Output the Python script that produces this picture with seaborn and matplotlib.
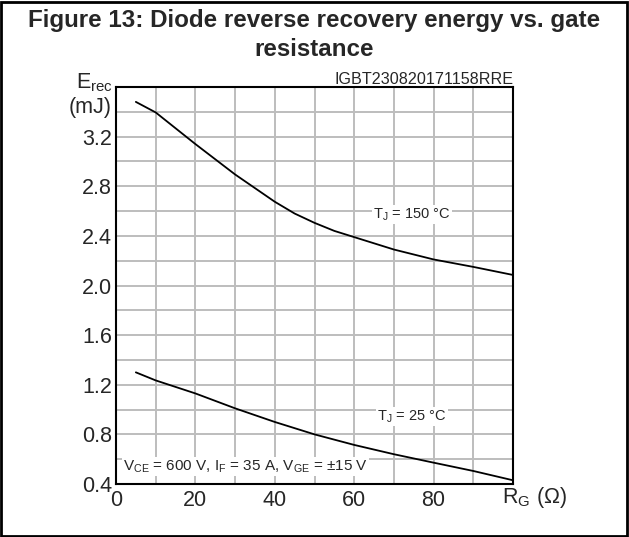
import numpy as np
import pandas as pd
import seaborn as sns
import matplotlib
import matplotlib.pyplot as plt
from matplotlib.patches import Rectangle

matplotlib.use('Agg')

# Curve data
rg_150 = [5, 10, 20, 30, 40, 45, 50, 55, 60, 70, 80, 90, 100]
erec_150 = [3.48, 3.395, 3.14, 2.895, 2.675, 2.58, 2.505, 2.44, 2.39, 2.29, 2.21, 2.15, 2.085]
rg_25 = [5, 10, 20, 30, 40, 50, 60, 70, 80, 90, 100]
erec_25 = [1.30, 1.235, 1.13, 1.01, 0.90, 0.80, 0.715, 0.64, 0.572, 0.505, 0.43]

x_ticks = [0, 10, 20, 30, 40, 50, 60, 70, 80, 90, 100]
x_labels = ['0', '', '20', '', '40', '', '60', '', '80', '', '']
y_ticks = [0.4, 0.6, 0.8, 1.0, 1.2, 1.4, 1.6, 1.8, 2.0, 2.2, 2.4, 2.6, 2.8, 3.0, 3.2, 3.4, 3.6]
y_labels = ['0.4', '', '0.8', '', '1.2', '', '1.6', '', '2.0', '', '2.4', '', '2.8', '', '3.2', '', '']

df = pd.concat([
    pd.DataFrame({'rg': rg_150, 'erec': erec_150, 'tj': '150'}),
    pd.DataFrame({'rg': rg_25, 'erec': erec_25, 'tj': '25'}),
])

sns.set_style('white')
plt.rcParams['font.family'] = ['Liberation Sans', 'DejaVu Sans']
plt.rcParams['mathtext.fontset'] = 'custom'
plt.rcParams['mathtext.rm'] = 'Liberation Sans'
plt.rcParams['mathtext.it'] = 'Liberation Sans:italic'
plt.rcParams['mathtext.bf'] = 'Liberation Sans:bold'

W, H = 629, 537
fig = plt.figure(figsize=(W / 100, H / 100), dpi=100)
ax = fig.add_axes([116 / W, 1 - 484 / H, (513 - 116) / W, (484 - 87) / H])

sns.lineplot(data=df, x='rg', y='erec', units='tj', estimator=None, color='black',
             linewidth=1.3, ax=ax, sort=False)

ax.set_xlim(0, 100)
ax.set_ylim(0.4, 3.6)
ax.set_xticks(x_ticks)
ax.set_xticklabels(x_labels)
ax.set_yticks(y_ticks)
ax.set_yticklabels(y_labels)
ax.tick_params(axis='both', length=0, labelsize=15.5)
ax.tick_params(axis='x', pad=4)
ax.tick_params(axis='y', pad=3)
ax.grid(True, color='#bdbdbd', linewidth=1.4)
ax.set_axisbelow(True)
for s in ax.spines.values():
    s.set_color('black')
    s.set_linewidth(1.5)
ax.set_xlabel('')
ax.set_ylabel('')

box = dict(facecolor='white', edgecolor='none', pad=1)
ax.text(74.5, 2.57, 'T$_{\\mathrm{J}}$ = 150 °C', fontsize=10.5, ha='center', va='center', bbox=box)
ax.text(74.5, 0.945, 'T$_{\\mathrm{J}}$ = 25 °C', fontsize=10.5, ha='center', va='center', bbox=box)
ax.text(1.8, 0.54, 'V$_{\\mathrm{CE}}$ = 600 V, I$_{\\mathrm{F}}$ = 35 A, V$_{\\mathrm{GE}}$ = ±15 V',
        fontsize=11, ha='left', va='center', bbox=box)
ax.text(1.0, 1.0, 'IGBT230820171158RRE', transform=ax.transAxes, fontsize=11.6,
        ha='right', va='bottom')

# axis captions in place of the last tick labels
fig.text(113 / W, 1 - 88 / H, 'E$_{\\mathrm{rec}}$', fontsize=15.5, ha='right', va='baseline')
fig.text(112 / W, 1 - 107 / H, '(mJ)', fontsize=15.5, ha='right', va='center')
fig.text(502 / W, 1 - 497 / H, 'R$_{\\mathrm{G}}$ (Ω)', fontsize=15.5, ha='left', va='center')

fig.text(0.5, 1 - 35 / H, 'Figure 13: Diode reverse recovery energy vs. gate\nresistance',
         fontsize=17.4, fontweight='bold', ha='center', va='center', linespacing=1.3)

fig.patches.append(Rectangle((1 / W, 1 / H), (W - 3) / W, (H - 3) / H, transform=fig.transFigure,
                             fill=False, edgecolor='black', linewidth=2))

fig.savefig('out.png', dpi=100)
